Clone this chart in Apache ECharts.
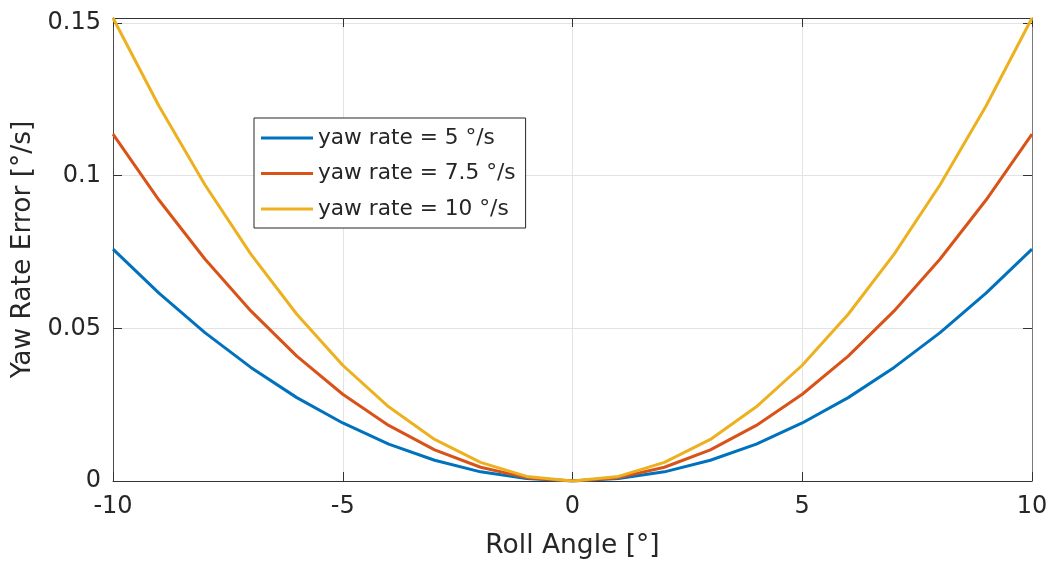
<!DOCTYPE html>
<html>
<head>
<meta charset="utf-8">
<title>Yaw Rate Error vs Roll Angle</title>
<script src="https://cdn.jsdelivr.net/npm/echarts@6/dist/echarts.min.js"></script>
<style>
  html, body { margin: 0; padding: 0; background: #ffffff; }
  #chart { width: 1051px; height: 565px; }
</style>
</head>
<body>
<div id="chart"></div>
<script>
// Roll angle samples [°]
const rollAngles = [-10, -9, -8, -7, -6, -5, -4, -3, -2, -1, 0, 1, 2, 3, 4, 5, 6, 7, 8, 9, 10];

// Yaw rate error [°/s] for each yaw rate
const errYaw5 = [0.0759, 0.0615, 0.0486, 0.0372, 0.0273, 0.0190, 0.0121, 0.0068, 0.0030, 0.0008, 0,
                 0.0008, 0.0030, 0.0068, 0.0121, 0.0190, 0.0273, 0.0372, 0.0486, 0.0615, 0.0759];
const errYaw75 = [0.1136, 0.0920, 0.0727, 0.0557, 0.0409, 0.0284, 0.0182, 0.0102, 0.0045, 0.0011, 0,
                  0.0011, 0.0045, 0.0102, 0.0182, 0.0284, 0.0409, 0.0557, 0.0727, 0.0920, 0.1136];
const errYaw10 = [0.1516, 0.1228, 0.0970, 0.0743, 0.0546, 0.0379, 0.0243, 0.0136, 0.0061, 0.0015, 0,
                  0.0015, 0.0061, 0.0136, 0.0243, 0.0379, 0.0546, 0.0743, 0.0970, 0.1228, 0.1516];

const seriesNames = ['yaw rate = 5 °/s', 'yaw rate = 7.5 °/s', 'yaw rate = 10 °/s'];
const seriesColors = ['#0072BD', '#D95319', '#EDB120'];

const xTitle = 'Roll Angle [°]';
const yTitle = 'Yaw Rate Error [°/s]';

const FONT = 'DejaVu Sans';
const TEXT = '#262626';
const GRID = '#e3e3e3';

const pairs = ys => rollAngles.map((x, i) => [x, ys[i]]);
const yTop = Math.max(...errYaw10);

const yLabel = v => {
  const k = Math.round(v / 0.05);
  return Math.abs(v - k * 0.05) < 1e-9 ? String(+(k * 0.05).toFixed(2)) : '';
};

const chart = echarts.init(document.getElementById('chart'), null, { renderer: 'canvas' });

chart.setOption({
  animation: false,
  backgroundColor: '#ffffff',
  textStyle: { fontFamily: FONT, color: TEXT },
  grid: { left: 113, right: 19, top: 18, bottom: 81, containLabel: false },
  legend: {
    orient: 'vertical',
    left: 254,
    top: 118,
    padding: [8, 10, 7, 7],
    itemGap: 11.5,
    itemWidth: 52,
    itemHeight: 3,
    icon: 'rect',
    backgroundColor: '#ffffff',
    borderColor: '#262626',
    borderWidth: 1,
    borderRadius: 0,
    textStyle: { fontFamily: FONT, fontSize: 21.7, color: TEXT, lineHeight: 24 },
    data: seriesNames
  },
  xAxis: [
    {
      type: 'value', min: -10, max: 10, interval: 5, position: 'bottom',
      name: xTitle, nameLocation: 'middle', nameGap: 52,
      nameTextStyle: { fontFamily: FONT, fontSize: 26.5, color: TEXT },
      axisLine: { show: true, onZero: false, lineStyle: { color: '#333333', width: 1 } },
      axisTick: { show: true, inside: true, length: 9, lineStyle: { color: '#333333' } },
      axisLabel: { fontFamily: FONT, fontSize: 24, color: TEXT, margin: 14 },
      splitLine: { show: true, lineStyle: { color: GRID, width: 1 } }
    },
    {
      type: 'value', min: -10, max: 10, interval: 5, position: 'top',
      axisLine: { show: true, onZero: false, lineStyle: { color: '#333333', width: 1 } },
      axisTick: { show: true, inside: true, length: 9, lineStyle: { color: '#333333' } },
      axisLabel: { show: false },
      splitLine: { show: false }
    }
  ],
  yAxis: [
    {
      type: 'value', min: 0, max: yTop, interval: 0.05, position: 'left',
      name: yTitle, nameLocation: 'middle', nameGap: 75,
      nameTextStyle: { fontFamily: FONT, fontSize: 26.5, color: TEXT },
      axisLine: { show: true, onZero: false, lineStyle: { color: '#4a4a4a', width: 1 } },
      axisTick: { show: true, inside: true, length: 9, lineStyle: { color: '#333333' } },
      axisLabel: { fontFamily: FONT, fontSize: 24, color: TEXT, margin: 12, formatter: yLabel, showMaxLabel: false },
      splitLine: { show: true, lineStyle: { color: GRID, width: 1 } }
    },
    {
      type: 'value', min: 0, max: yTop, interval: 0.05, position: 'right',
      axisLine: { show: true, onZero: false, lineStyle: { color: '#7a7a7a', width: 1 } },
      axisTick: { show: true, inside: true, length: 9, lineStyle: { color: '#333333' } },
      axisLabel: { show: false },
      splitLine: { show: false }
    }
  ],
  series: [errYaw5, errYaw75, errYaw10].map((ys, i) => ({
    name: seriesNames[i],
    type: 'line',
    xAxisIndex: 0,
    yAxisIndex: 0,
    data: pairs(ys),
    showSymbol: false,
    symbol: 'none',
    clip: true,
    lineStyle: { color: seriesColors[i], width: 3 },
    itemStyle: { color: seriesColors[i] },
    z: 2 + i
  }))
});
</script>
</body>
</html>
